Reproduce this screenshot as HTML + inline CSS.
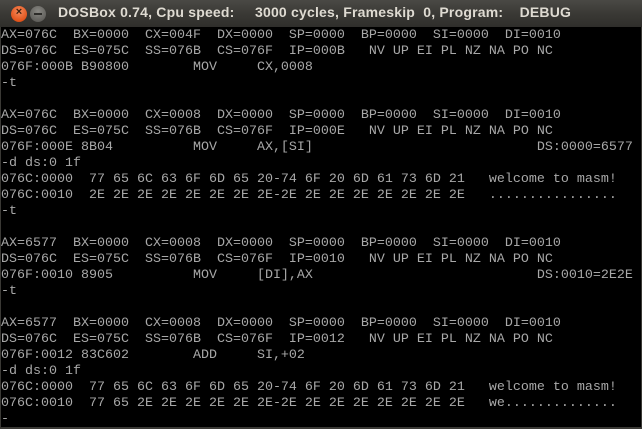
<!DOCTYPE html>
<html><head><meta charset="utf-8"><style>
html,body{margin:0;padding:0;width:642px;height:429px;overflow:hidden;background:#3a3935}
#title{position:absolute;left:0;top:0;width:642px;height:27px;background:linear-gradient(#4a4945,#3a3935 50%,#2f2e2b);}
#close{position:absolute;left:11px;top:6px;width:16px;height:16px;border-radius:50%;background:radial-gradient(circle at 50% 35%,#f58b5c,#e2541c 70%,#b43e10);}
#close span{position:absolute;left:0;top:0;width:16px;height:16px;line-height:16px;text-align:center;font:bold 11px "Liberation Sans",sans-serif;color:#3a2010}
#min{position:absolute;left:30px;top:6px;width:16px;height:16px;border-radius:50%;background:radial-gradient(circle at 50% 35%,#8a8984,#5f5e5a 75%,#4a4945);}
#min span{position:absolute;left:4px;top:7px;width:8px;height:2px;background:#2d2c29}
#ttext{position:absolute;left:58px;top:4px;font:bold 14px "Liberation Sans",sans-serif;color:#dfdbd2;white-space:pre;letter-spacing:0.2px}
#screen{position:absolute;left:1px;top:27px;width:640px;height:400px;background:#000}
pre{margin:0;position:absolute;left:0;top:1px;font-family:"Liberation Mono",monospace;font-size:13.33px;line-height:16px;color:#a8a8a8;white-space:pre}
</style></head><body>
<div id="title">
<div id="close"><span>×</span></div>
<div id="min"><span></span></div>
<div id="ttext">DOSBox 0.74, Cpu speed:     3000 cycles, Frameskip  0, Program:    DEBUG</div>
</div>
<div id="screen"><pre>AX=076C  BX=0000  CX=004F  DX=0000  SP=0000  BP=0000  SI=0000  DI=0010
DS=076C  ES=075C  SS=076B  CS=076F  IP=000B   NV UP EI PL NZ NA PO NC
076F:000B B90800        MOV     CX,0008
-t

AX=076C  BX=0000  CX=0008  DX=0000  SP=0000  BP=0000  SI=0000  DI=0010
DS=076C  ES=075C  SS=076B  CS=076F  IP=000E   NV UP EI PL NZ NA PO NC
076F:000E 8B04          MOV     AX,[SI]                            DS:0000=6577
-d ds:0 1f
076C:0000  77 65 6C 63 6F 6D 65 20-74 6F 20 6D 61 73 6D 21   welcome to masm!
076C:0010  2E 2E 2E 2E 2E 2E 2E 2E-2E 2E 2E 2E 2E 2E 2E 2E   ................
-t

AX=6577  BX=0000  CX=0008  DX=0000  SP=0000  BP=0000  SI=0000  DI=0010
DS=076C  ES=075C  SS=076B  CS=076F  IP=0010   NV UP EI PL NZ NA PO NC
076F:0010 8905          MOV     [DI],AX                            DS:0010=2E2E
-t

AX=6577  BX=0000  CX=0008  DX=0000  SP=0000  BP=0000  SI=0000  DI=0010
DS=076C  ES=075C  SS=076B  CS=076F  IP=0012   NV UP EI PL NZ NA PO NC
076F:0012 83C602        ADD     SI,+02
-d ds:0 1f
076C:0000  77 65 6C 63 6F 6D 65 20-74 6F 20 6D 61 73 6D 21   welcome to masm!
076C:0010  77 65 2E 2E 2E 2E 2E 2E-2E 2E 2E 2E 2E 2E 2E 2E   we..............
-</pre></div>
</body></html>
